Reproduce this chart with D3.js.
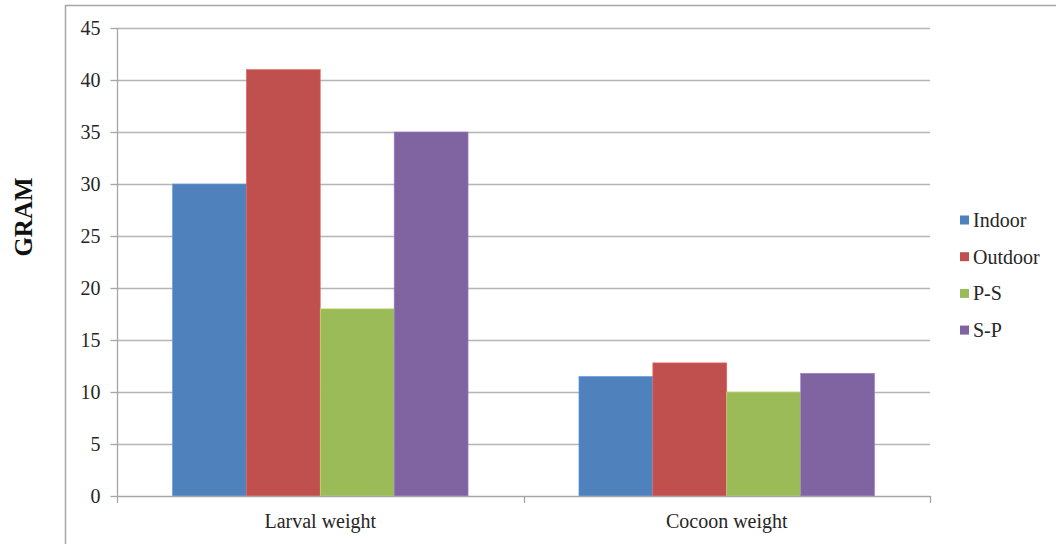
<!DOCTYPE html>
<html>
<head>
<meta charset="utf-8">
<script src="https://cdn.jsdelivr.net/npm/d3@7"></script>
<style>
  html, body { margin: 0; padding: 0; background: #fff; }
  svg { display: block; }
</style>
</head>
<body>
<svg id="chart" width="1056" height="544"></svg>
<script>
// Weight measurements (grams) per rearing condition
const categories = ["Larval weight", "Cocoon weight"];
const seriesNames = ["Indoor", "Outdoor", "P-S", "S-P"];
const indoor = [30, 11.5];
const outdoor = [41, 12.8];
const ps = [18, 10];
const sp = [35, 11.8];
const yTicks = [0, 5, 10, 15, 20, 25, 30, 35, 40, 45];
const colors = ["#4F81BD", "#C0504D", "#9BBB59", "#8064A2"];

const seriesValues = [indoor, outdoor, ps, sp];
const serif = "'Liberation Serif', 'Times New Roman', serif";

const svg = d3.select("#chart");

// Outer chart frame
svg.append("rect")
  .attr("x", 65.5).attr("y", 5.5)
  .attr("width", 1100).attr("height", 600)
  .attr("fill", "none")
  .attr("stroke", "#a6a6a6")
  .attr("stroke-width", 1.5);

const plot = { left: 117, right: 930, top: 28, bottom: 496 };

const x0 = d3.scaleBand()
  .domain(categories)
  .range([plot.left, plot.right])
  .paddingInner(0).paddingOuter(0);

// 150% gap width: four bars plus 1.5 bar widths of gap per category
const groupWidth = x0.bandwidth() * 4 / 5.5;
const x1 = d3.scaleBand()
  .domain(seriesNames)
  .range([0, groupWidth])
  .padding(0);

const y = d3.scaleLinear().domain([0, 45]).range([plot.bottom, plot.top]);

// Horizontal gridlines
svg.append("g")
  .selectAll("line")
  .data(yTicks.filter(t => t > 0))
  .join("line")
  .attr("x1", plot.left).attr("x2", plot.right)
  .attr("y1", d => Math.round(y(d)) + 0.5)
  .attr("y2", d => Math.round(y(d)) + 0.5)
  .attr("stroke", "#b5b5b5")
  .attr("stroke-width", 1.3);

// Bars
const groups = svg.append("g")
  .selectAll("g")
  .data(categories)
  .join("g")
  .attr("transform", d => `translate(${x0(d) + (x0.bandwidth() - groupWidth) / 2},0)`);

groups.selectAll("rect")
  .data((c, i) => seriesNames.map((s, k) => ({ s, k, v: seriesValues[k][i] })))
  .join("rect")
  .attr("x", d => x1(d.s))
  .attr("width", x1.bandwidth())
  .attr("y", d => y(d.v))
  .attr("height", d => y(0) - y(d.v))
  .attr("fill", d => colors[d.k])
  .attr("stroke", d => d3.color(colors[d.k]).brighter(0.6))
  .attr("stroke-width", 0.6);

// Y axis
const yAxis = d3.axisLeft(y)
  .tickValues(yTicks)
  .tickSize(7)
  .tickPadding(10)
  .tickFormat(d3.format("d"));

const gy = svg.append("g")
  .attr("transform", `translate(${plot.left + 0.5},0)`)
  .call(yAxis)
  .attr("font-family", serif)
  .attr("font-size", 20);
gy.select(".domain").attr("stroke", "#a6a6a6").attr("stroke-width", 1.3)
  .attr("d", `M0,${plot.top}V${plot.bottom}`);
gy.selectAll(".tick line").attr("stroke", "#a6a6a6").attr("stroke-width", 1.3);
gy.selectAll(".tick text").attr("fill", "#262626").attr("dy", "0.34em");

// X axis
const xAxis = d3.axisBottom(x0).tickSize(0);
const gx = svg.append("g")
  .attr("transform", `translate(0,${plot.bottom + 0.5})`)
  .call(xAxis)
  .attr("font-family", serif)
  .attr("font-size", 20);
gx.select(".domain").attr("stroke", "#a6a6a6").attr("stroke-width", 1.3)
  .attr("d", `M${plot.left},0H${plot.right}`);
gx.selectAll(".tick text").attr("fill", "#262626").attr("y", 31).attr("dy", null);

// Category boundary tick marks below the x axis
svg.append("g")
  .selectAll("line")
  .data([plot.left, x0(categories[1]), plot.right])
  .join("line")
  .attr("x1", d => Math.round(d) + 0.5).attr("x2", d => Math.round(d) + 0.5)
  .attr("y1", plot.bottom).attr("y2", plot.bottom + 7)
  .attr("stroke", "#a6a6a6")
  .attr("stroke-width", 1.3);

// Y axis title
svg.append("text")
  .attr("transform", "translate(32,217) rotate(-90)")
  .attr("text-anchor", "middle")
  .attr("font-family", serif)
  .attr("font-weight", "bold")
  .attr("font-size", 25)
  .attr("fill", "#111")
  .text("GRAM");

// Legend
const legend = svg.append("g")
  .attr("transform", "translate(960,220)")
  .attr("font-family", serif)
  .attr("font-size", 20);
const items = legend.selectAll("g")
  .data(seriesNames)
  .join("g")
  .attr("transform", (d, i) => `translate(0,${i * 36.7})`);
items.append("rect")
  .attr("x", 0).attr("y", -4.5)
  .attr("width", 9).attr("height", 9)
  .attr("fill", (d, i) => colors[i]);
items.append("text")
  .attr("x", 13).attr("y", 7)
  .attr("fill", "#262626")
  .text(d => d);
</script>
</body>
</html>
